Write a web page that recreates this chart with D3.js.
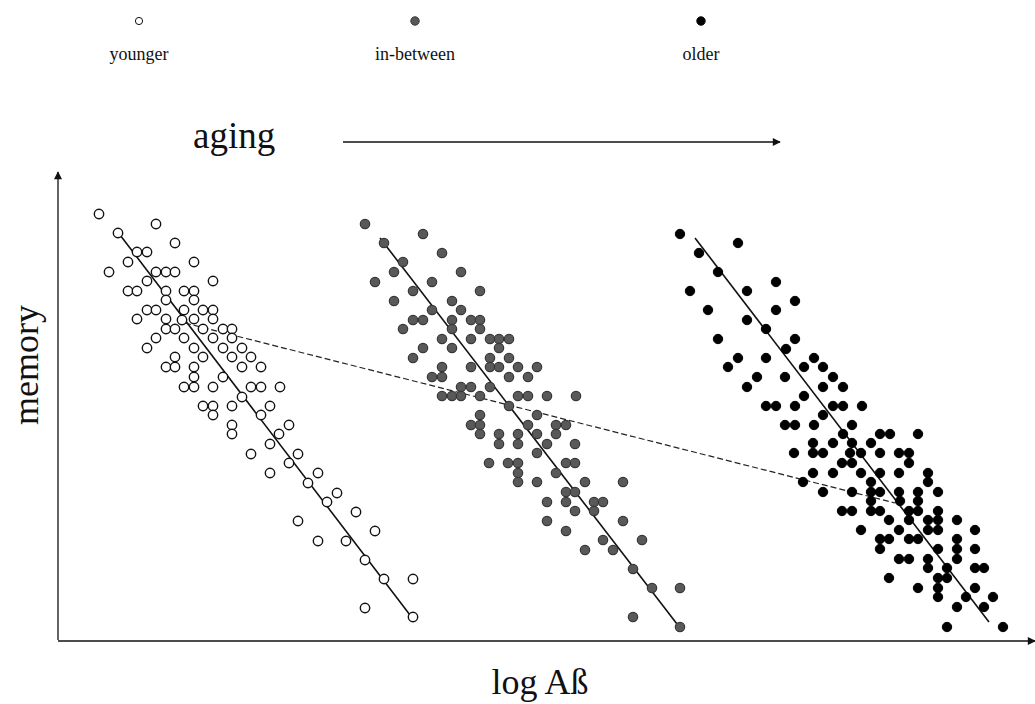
<!DOCTYPE html>
<html lang="en">
<head>
<meta charset="UTF-8" />
<title>memory vs log Aß with aging</title>
<script src="https://d3js.org/d3.v7.min.js"></script>
<style>
  body { margin: 0; background: #fff; }
  svg { display: block; }
  text { font-family: "Liberation Serif", "DejaVu Serif", serif; fill: #111; }
</style>
</head>
<body>
<svg id="chart" width="1035" height="704"></svg>
<script>
  // groups shown in the legend
  const groups = ["younger", "in-between", "older"];

  // [log Aß, memory] in arbitrary units
  const younger = [
    [4.1,42.6],[9.8,41.6],[6.0,40.7],[11.7,39.7],[7.9,38.8],[8.9,38.8],[7.0,37.8],[13.6,37.8],
    [5.1,36.8],[9.8,36.8],[10.8,36.8],[11.7,36.8],[8.9,35.9],[15.5,35.9],[7.0,34.9],[7.9,34.9],
    [10.8,34.9],[12.6,34.9],[13.6,34.9],[10.8,34.0],[13.6,34.0],[8.9,33.0],[9.8,33.0],[12.6,33.0],
    [14.5,33.0],[15.5,33.0],[7.9,32.1],[10.8,32.1],[12.4,32.0],[13.6,32.1],[15.5,32.1],[10.8,31.1],
    [11.7,31.1],[14.5,31.1],[16.5,31.1],[17.4,31.1],[9.8,30.2],[12.6,30.2],[15.5,30.2],[17.4,30.2],
    [8.9,29.2],[13.6,29.2],[16.5,29.2],[18.4,29.2],[11.7,28.3],[14.5,28.3],[17.4,28.3],[19.3,28.3],
    [10.8,27.3],[11.7,27.3],[13.6,27.3],[18.4,27.3],[20.3,27.3],[13.6,26.3],[16.5,26.3],[12.6,25.3],
    [13.6,25.3],[15.5,25.3],[19.3,25.3],[20.3,25.3],[22.2,25.3],[18.4,24.3],[14.5,23.4],[15.5,23.4],
    [17.4,23.4],[21.2,23.4],[15.5,22.5],[20.3,22.5],[17.4,21.5],[23.1,21.5],[17.4,20.6],[22.1,20.6],
    [21.2,19.6],[19.3,18.6],[24.0,18.6],[23.1,17.7],[21.2,16.7],[26.0,16.7],[25.0,15.7],[27.9,14.7],
    [26.9,13.8],[29.8,12.8],[24.0,11.9],[31.7,10.9],[26.0,9.9],[28.8,9.9],[30.7,8.0],[32.6,6.1],
    [35.5,6.1],[30.7,3.2],[35.5,2.3]
  ];

  const inBetween = [
    [30.7,41.6],[36.5,40.6],[32.6,39.7],[38.4,38.7],[34.5,37.8],[33.6,36.8],[40.3,36.8],[31.7,35.8],
    [37.4,35.8],[35.5,34.9],[42.2,34.9],[33.6,33.9],[39.4,33.9],[37.4,33.0],[40.3,33.0],[35.5,32.0],
    [36.5,32.0],[39.4,32.0],[41.3,32.0],[42.2,32.0],[34.5,31.1],[39.4,31.1],[42.2,31.1],[38.4,30.1],
    [41.3,30.1],[43.2,30.1],[44.1,30.1],[45.1,30.1],[36.5,29.2],[39.4,29.2],[44.1,29.2],[35.5,28.2],
    [43.2,28.2],[45.1,28.2],[38.4,27.3],[41.3,27.3],[43.2,27.3],[44.1,27.3],[46.0,27.3],[47.9,27.3],
    [37.4,26.3],[38.4,26.3],[45.1,26.3],[47.0,26.3],[40.3,25.3],[41.3,25.3],[43.2,25.3],[38.4,24.4],
    [39.4,24.4],[40.3,24.4],[42.2,24.4],[46.0,24.4],[47.0,24.4],[48.9,24.4],[51.8,24.4],[45.1,23.4],
    [42.2,22.5],[47.9,22.5],[41.3,21.5],[42.2,21.5],[47.0,21.5],[49.8,21.5],[50.8,21.5],[42.2,20.6],
    [44.1,20.6],[46.0,20.6],[47.9,20.6],[49.8,20.6],[44.1,19.6],[46.0,19.6],[48.9,19.6],[51.7,19.6],
    [47.9,18.7],[43.1,17.7],[45.0,17.7],[46.0,17.7],[50.8,17.7],[51.7,17.7],[46.0,16.7],[49.8,16.7],
    [46.0,15.8],[47.9,15.8],[52.7,15.8],[56.5,15.8],[50.8,14.8],[51.7,14.8],[48.9,13.8],[50.8,13.8],
    [53.6,13.8],[54.5,13.8],[51.7,12.9],[53.6,12.9],[48.9,11.9],[56.5,11.9],[50.8,10.9],[54.5,10.0],
    [58.4,10.0],[52.7,9.0],[55.5,9.0],[57.5,7.1],[59.4,5.2],[62.2,5.2],[57.5,2.3],[62.2,1.3]
  ];

  const older = [
    [62.2,40.6],[68.0,39.7],[64.1,38.7],[66.0,36.8],[71.8,35.8],[63.2,34.9],[68.9,34.9],[73.7,33.9],
    [65.0,33.0],[71.8,33.0],[68.9,32.0],[70.8,31.1],[66.0,30.1],[73.7,30.1],[72.8,29.1],[68.0,28.2],
    [70.8,28.2],[75.6,28.2],[67.0,27.3],[74.6,27.3],[76.5,27.3],[69.9,26.3],[72.7,26.3],[77.5,26.3],
    [68.9,25.3],[76.5,25.3],[78.5,25.3],[74.6,24.4],[70.8,23.4],[71.8,23.4],[73.7,23.4],[77.5,23.4],
    [78.5,23.4],[80.4,23.4],[76.5,22.5],[72.7,21.5],[73.7,21.5],[75.6,21.5],[79.4,21.5],[78.5,20.6],
    [82.2,20.6],[83.2,20.6],[86.0,20.6],[75.5,19.7],[77.5,19.7],[79.4,19.7],[81.3,19.7],[73.6,18.7],
    [75.5,18.7],[76.5,18.7],[79.2,18.7],[80.3,18.7],[82.2,18.7],[84.1,18.7],[85.1,18.7],[78.4,17.7],
    [79.4,17.7],[85.1,17.7],[75.5,16.7],[77.5,16.7],[80.3,16.7],[82.2,16.7],[84.1,16.7],[87.0,16.7],
    [74.5,15.8],[81.3,15.8],[87.0,15.8],[76.5,14.8],[79.4,14.8],[81.3,14.8],[82.2,14.8],[84.1,14.8],
    [86.0,14.8],[88.0,14.8],[81.3,13.9],[84.2,13.9],[86.0,13.9],[78.4,12.9],[79.4,12.9],[81.3,12.9],
    [82.2,12.9],[85.1,12.9],[86.0,12.9],[88.0,12.9],[83.1,12.0],[85.1,12.0],[87.0,12.0],[88.0,12.0],
    [89.9,12.0],[80.3,11.0],[84.1,11.0],[87.0,11.0],[88.0,11.0],[91.7,11.0],[82.2,10.1],[83.1,10.1],
    [85.1,10.1],[86.0,10.1],[89.9,10.1],[82.2,9.1],[88.0,9.1],[89.9,9.1],[91.7,9.1],[84.1,8.1],
    [85.1,8.1],[87.0,8.1],[89.9,8.1],[87.0,7.2],[88.9,7.2],[91.7,7.2],[92.6,7.2],[83.1,6.2],
    [88.0,6.2],[88.9,6.2],[86.0,5.2],[88.0,5.2],[91.7,5.2],[88.0,4.3],[90.8,4.3],[93.5,4.3],
    [89.9,3.3],[92.6,3.3],[88.9,1.3],[94.5,1.3]
  ];

  // regression line per group (start, end)
  const fitYounger = [[5.9,40.9],[35.2,2.5]];
  const fitInBetween = [[32.2,40.2],[61.9,1.6]];
  const fitOlder = [[63.7,40.2],[93.1,1.8]];
  // dashed trend across groups
  const trendLine = [[12.7,31.7],[83.7,13.7]];

  const svg = d3.select("#chart");

  const x = d3.scaleLinear().domain([0, 97.7]).range([58, 1035]);
  const y = d3.scaleLinear().domain([0, 46.5]).range([640, 175]);

  const styles = {
    "younger":    { fill: "#fff",    stroke: "#111", sw: 1.4 },
    "in-between": { fill: "#595959", stroke: "#383838", sw: 1.2 },
    "older":      { fill: "#000",    stroke: "#000", sw: 1 }
  };

  const defs = svg.append("defs");
  defs.append("marker")
    .attr("id", "head")
    .attr("viewBox", "0 0 10 10")
    .attr("refX", 9).attr("refY", 5)
    .attr("markerWidth", 10).attr("markerHeight", 8)
    .attr("markerUnits", "userSpaceOnUse")
    .attr("orient", "auto")
    .append("path").attr("d", "M0,0L10,5L0,10Z").attr("fill", "#111");

  // axes drawn as plain arrows (no ticks in the original)
  svg.append("line")
    .attr("x1", x(0)).attr("y1", y(0)).attr("x2", x(0)).attr("y2", 172)
    .attr("stroke", "#111").attr("stroke-width", 1.3)
    .attr("marker-end", "url(#head)");
  svg.append("line")
    .attr("x1", x(0)).attr("y1", y(0) + 1).attr("x2", 1035).attr("y2", y(0) + 1)
    .attr("stroke", "#111").attr("stroke-width", 1.3)
    .attr("marker-end", "url(#head)");

  svg.append("text")
    .attr("transform", "translate(38,365) rotate(-90)")
    .attr("text-anchor", "middle")
    .style("font-size", "36px")
    .text("memory");

  svg.append("text")
    .attr("x", 540).attr("y", 694)
    .attr("text-anchor", "middle")
    .style("font-size", "36px")
    .text("log Aß");

  // aging arrow
  svg.append("text")
    .attr("x", 193).attr("y", 148)
    .style("font-size", "37px")
    .text("aging");
  svg.append("line")
    .attr("x1", 343).attr("y1", 142).attr("x2", 780).attr("y2", 142)
    .attr("stroke", "#111").attr("stroke-width", 1.4)
    .attr("marker-end", "url(#head)");

  // legend
  const legendX = { "younger": 139, "in-between": 415, "older": 701 };
  const lg = svg.append("g").selectAll("g")
    .data(groups).enter().append("g")
    .attr("transform", d => `translate(${legendX[d]},0)`);
  lg.append("circle")
    .attr("cy", 21).attr("r", d => d === "younger" ? 3.6 : 4.2)
    .attr("fill", d => styles[d].fill)
    .attr("stroke", d => styles[d].stroke)
    .attr("stroke-width", 1);
  lg.append("text")
    .attr("y", 60).attr("text-anchor", "middle")
    .style("font-size", "18px")
    .text(d => d);

  const line = d3.line().x(d => x(d[0])).y(d => y(d[1]));

  [fitYounger, fitInBetween, fitOlder].forEach(seg => {
    svg.append("path")
      .attr("d", line(seg))
      .attr("fill", "none")
      .attr("stroke", "#111")
      .attr("stroke-width", 1.6);
  });

  svg.append("path")
    .attr("d", line(trendLine))
    .attr("fill", "none")
    .attr("stroke", "#222")
    .attr("stroke-width", 1.2)
    .attr("stroke-dasharray", "6,3");

  const series = [["younger", younger], ["in-between", inBetween], ["older", older]];
  series.forEach(([name, pts]) => {
    const st = styles[name];
    svg.append("g")
      .attr("class", name)
      .selectAll("circle")
      .data(pts)
      .enter().append("circle")
      .attr("cx", d => x(d[0]))
      .attr("cy", d => y(d[1]))
      .attr("r", 4.7)
      .attr("fill", st.fill)
      .attr("stroke", st.stroke)
      .attr("stroke-width", st.sw);
  });
</script>
</body>
</html>
